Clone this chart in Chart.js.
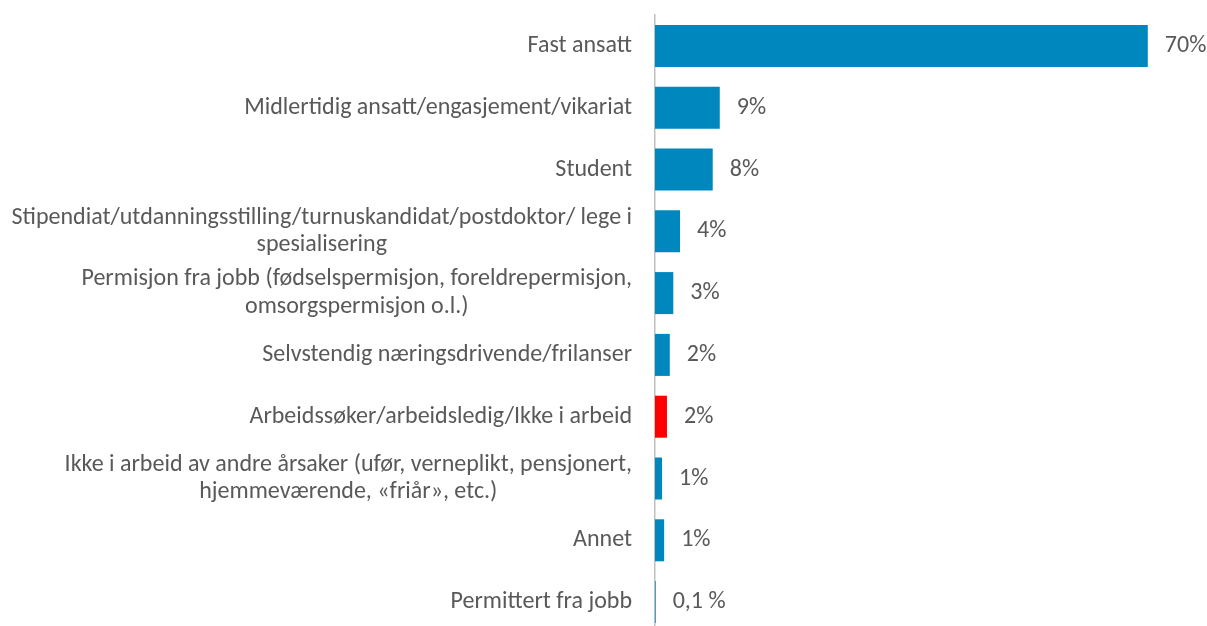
<!DOCTYPE html>
<html>
<head>
<meta charset="utf-8">
<script src="https://cdn.jsdelivr.net/npm/chart.js@4.4.1/dist/chart.umd.min.js"></script>
<style>
  html, body { margin: 0; padding: 0; background: #fff; overflow: hidden; }
  #wrap { width: 1207px; height: 640px; }
</style>
</head>
<body>
<div id="wrap"><canvas id="statusChart"></canvas></div>
<script>
const categories = [
  'Fast ansatt',
  'Midlertidig ansatt/engasjement/vikariat',
  'Student',
  ['Stipendiat/utdanningsstilling/turnuskandidat/postdoktor/ lege i', 'spesialisering'],
  ['Permisjon fra jobb (fødselspermisjon, foreldrepermisjon,', 'omsorgspermisjon o.l.)'],
  'Selvstendig næringsdrivende/frilanser',
  'Arbeidssøker/arbeidsledig/Ikke i arbeid',
  ['Ikke i arbeid av andre årsaker (ufør, verneplikt, pensjonert,', 'hjemmeværende, «friår», etc.)'],
  'Annet',
  'Permittert fra jobb'
];
const shares = [70, 9.2, 8.2, 3.55, 2.6, 2.1, 1.7, 1.0, 1.3, 0.1];
const shareLabels = ['70%', '9%', '8%', '4%', '3%', '2%', '2%', '1%', '1%', '0,1 %'];
const highlight = 6;

const FONT = '24px Carlito, Lato, sans-serif';
const TEXT = '#595959';

// category labels: block right-aligned, lines centred inside the block (like Excel)
const catLabels = {
  id: 'catLabels',
  afterDraw(chart) {
    const { ctx } = chart;
    const y = chart.scales.y;
    const right = chart.chartArea.left - 23;
    const lh = 27.5;
    ctx.save();
    ctx.font = FONT;
    ctx.fillStyle = TEXT;
    ctx.textAlign = 'center';
    ctx.textBaseline = 'middle';
    categories.forEach((c, i) => {
      const lines = Array.isArray(c) ? c : [c];
      const w = Math.max(...lines.map(l => ctx.measureText(l).width));
      const cy = y.getPixelForTick(i);
      lines.forEach((l, k) => {
        ctx.fillText(l, right - w / 2, cy + (k - (lines.length - 1) / 2) * lh);
      });
    });
    ctx.restore();
  }
};

const valueLabels = {
  id: 'valueLabels',
  afterDatasetsDraw(chart) {
    const { ctx } = chart;
    ctx.save();
    ctx.font = FONT;
    ctx.fillStyle = TEXT;
    ctx.textAlign = 'left';
    ctx.textBaseline = 'middle';
    chart.getDatasetMeta(0).data.forEach((bar, i) => {
      ctx.fillText(shareLabels[i], bar.x + 17, bar.y);
    });
    ctx.restore();
  }
};

const ctx = document.getElementById('statusChart').getContext('2d');
new Chart(ctx, {
  type: 'bar',
  data: {
    labels: categories,
    datasets: [{
      data: shares,
      backgroundColor: shares.map((v, i) => i === highlight ? '#FF0000' : '#0087BE'),
      borderWidth: 0,
      barPercentage: 0.68,
      categoryPercentage: 1
    }]
  },
  options: {
    indexAxis: 'y',
    responsive: true,
    maintainAspectRatio: false,
    animation: false,
    layout: { padding: { top: 15, bottom: 7, left: 0, right: 24 } },
    plugins: {
      legend: { display: false },
      tooltip: { enabled: false }
    },
    scales: {
      x: { display: false, min: 0, max: 75 },
      y: {
        ticks: { display: false },
        grid: { display: false },
        border: { display: true, color: '#BFBFBF', width: 1.5 },
        afterFit: scale => { scale.width = 655; }
      }
    }
  },
  plugins: [catLabels, valueLabels]
});
</script>
</body>
</html>
